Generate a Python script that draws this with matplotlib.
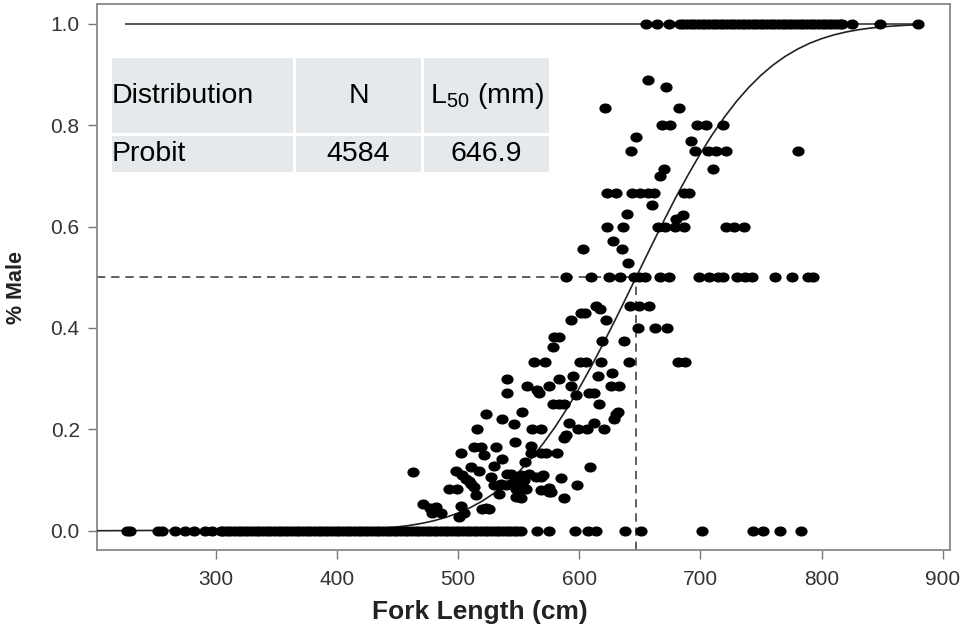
import matplotlib
matplotlib.use("Agg")
import matplotlib.pyplot as plt
from matplotlib.path import Path
from matplotlib.patches import Rectangle
from matplotlib.transforms import Affine2D

plt.rcParams["font.family"] = ["Liberation Sans", "DejaVu Sans"]
plt.rcParams["mathtext.fontset"] = "custom"
plt.rcParams["mathtext.rm"] = "Liberation Sans"

# ---- data -------------------------------------------------------------------
L50 = 646.9
N_FISH = 4584

# fish with 0 % male
zero_x = [226.4, 229.5, 252.3, 255.6, 266.7, 275, 281.8, 291.5, 297,
          304, 306, 309, 312, 315, 318, 321, 324, 327, 330, 333, 336, 339, 342,
          345, 348, 351, 354, 357, 360, 363, 366, 369, 372, 375, 378, 381, 384,
          387, 390, 393, 396, 399, 402, 405, 408, 411, 414, 417, 420, 423, 426,
          429, 432, 435, 438, 441, 444, 447, 450, 453, 456, 459, 462, 465, 468,
          471, 474, 477, 480, 483, 486, 489, 492, 495, 498, 501, 504, 507, 510,
          513, 516, 519, 522, 525, 528, 531, 534, 537, 540, 543, 546, 549, 552,
          565.5, 575.2, 596.3, 607.6, 613.8, 638, 651, 701.4, 743.2, 751.5,
          765.3, 783.2]

# fish with 100 % male
one_x = [655.1, 664.3, 673.8,
         683, 686, 689, 692, 695, 698, 701, 704, 707, 710, 713, 716, 719, 722,
         725, 728, 731, 734, 737, 740, 743, 746, 749, 752, 755, 758, 761, 764,
         767, 770, 773, 776, 779, 782, 785, 788, 791, 794, 797, 800, 803, 806,
         809, 812, 815, 817,
         825.4, 848, 880]

# intermediate proportions
mid_x = [656.5, 671.6, 621.2, 682.3,
         668, 674.7, 697, 705, 718.8,
         647, 692,
         642.8, 695.3, 706, 713, 721.5, 780.4,
         670.2, 710.2, 667,
         623.2, 630, 643.3, 650, 656.5, 661.3, 686.4, 691,
         660, 639.2, 685.4, 679.9,
         623.2, 636.1, 665.3, 670.9, 679.2, 686.4, 721.2, 728, 735.8,
         627.8, 603, 635.2, 640.2,
         589, 610, 624.9, 633.9, 645.5, 649.6, 654.4, 666.5, 674.4, 699.2,
         706.7, 714.3, 718.9, 730, 736.5, 742.5, 761.6, 775.2, 788.6, 792.7,
         613.8, 617.5, 642, 649.5, 657.9,
         601.4, 604.6, 593.1, 622.1,
         648.5, 662.8, 672.5,
         579.3, 583.7, 618.8, 637.2, 578,
         562.8, 572, 600.7, 605.5, 618.3, 641.3, 681.5, 687.5,
         540.7, 583.5, 594.5, 615.1, 627,
         556.9, 575.2, 593.1, 626.6, 633.1, 565.5,
         540.5, 567, 608.3, 612.4, 597.3,
         578.6, 583.5, 587.6, 615.9,
         522.9, 630.3, 552.8, 632, 536.1, 629, 546.3, 591.7, 612.4,
         516, 561.4, 568.3, 598.6, 606.2, 620.7,
         589, 587.8, 547.1, 560.1,
         513.2, 518.8, 531.2,
         502.2, 560.1, 568.3, 572.5, 582,
         521.5, 536.6, 555.4, 529.8, 510.5, 609,
         498.1, 517.4, 462.8,
         540.7, 543.5, 558.7, 503.5, 551.8, 569.7, 527, 564.2, 549, 568.3,
         584.9, 506.3, 554.5, 509.1,
         546.3, 510.5, 535.3, 543.5, 529.8, 553.1, 597.8, 533.9, 539.4,
         513.2, 575.2,
         492.6, 499.4, 547.7, 555.9, 552.6,
         568.3, 550.4, 575.2, 576.6,
         533.9, 514.6, 547.7, 551.8, 587.6,
         471.1, 502.2, 481.6, 476.6, 522.9, 520.1, 525.6,
         485.7, 504.9, 478.8, 500.8]
mid_y = [0.889, 0.875, 0.833, 0.833,
         0.8, 0.8, 0.8, 0.8, 0.8,
         0.777, 0.768,
         0.75, 0.75, 0.75, 0.75, 0.75, 0.75,
         0.714, 0.714, 0.70,
         0.667, 0.667, 0.667, 0.667, 0.667, 0.667, 0.667, 0.667,
         0.643, 0.625, 0.623, 0.615,
         0.6, 0.6, 0.6, 0.6, 0.6, 0.6, 0.6, 0.6, 0.6,
         0.571, 0.556, 0.556, 0.529,
         0.5, 0.5, 0.5, 0.5, 0.5, 0.5, 0.5, 0.5, 0.5, 0.5,
         0.5, 0.5, 0.5, 0.5, 0.5, 0.5, 0.5, 0.5, 0.5, 0.5,
         0.444, 0.438, 0.444, 0.444, 0.444,
         0.429, 0.429, 0.416, 0.416,
         0.4, 0.4, 0.4,
         0.383, 0.383, 0.375, 0.375, 0.362,
         0.333, 0.333, 0.333, 0.333, 0.333, 0.333, 0.333, 0.333,
         0.30, 0.30, 0.306, 0.306, 0.311,
         0.285, 0.285, 0.285, 0.285, 0.285, 0.277,
         0.272, 0.272, 0.272, 0.272, 0.267,
         0.25, 0.25, 0.25, 0.25,
         0.231, 0.231, 0.234, 0.234, 0.221, 0.221, 0.21, 0.213, 0.213,
         0.2, 0.2, 0.2, 0.2, 0.2, 0.2,
         0.188, 0.182, 0.175, 0.167,
         0.165, 0.165, 0.165,
         0.154, 0.154, 0.154, 0.154, 0.154,
         0.149, 0.141, 0.136, 0.127, 0.125, 0.125,
         0.118, 0.118, 0.115,
         0.112, 0.112, 0.112, 0.11, 0.11, 0.11, 0.106, 0.106, 0.106, 0.106,
         0.105, 0.103, 0.1, 0.098,
         0.094, 0.092, 0.092, 0.092, 0.09, 0.09, 0.09, 0.09, 0.09,
         0.087, 0.085,
         0.083, 0.083, 0.083, 0.083, 0.083,
         0.08, 0.077, 0.077, 0.077,
         0.072, 0.07, 0.067, 0.064, 0.064,
         0.0525, 0.049, 0.047, 0.044, 0.044, 0.042, 0.042,
         0.035, 0.035, 0.034, 0.028]

# fitted probit curve
curve_x = [202, 420, 440, 450, 460, 470, 480, 490, 500, 510, 520, 530, 540,
           550, 560, 570, 580, 590, 600, 610, 620, 630, 640, 650, 660, 670,
           680, 690, 700, 710, 720, 730, 740, 750, 760, 770, 780, 790, 800,
           810, 820, 830, 840, 850, 860, 870, 880]
curve_y = [0.0, 0.0026, 0.0053, 0.0075, 0.0105, 0.0145, 0.0197, 0.0264,
           0.0349, 0.0455, 0.0586, 0.0745, 0.0934, 0.1158, 0.1417, 0.1713,
           0.2044, 0.2413, 0.2813, 0.3243, 0.370, 0.4173, 0.466, 0.5152,
           0.564, 0.6122, 0.659, 0.7026, 0.744, 0.782, 0.8165, 0.8475, 0.8747,
           0.8985, 0.9187, 0.9357, 0.9498, 0.9614, 0.9706, 0.9780, 0.9837,
           0.9881, 0.9914, 0.9939, 0.9957, 0.9971, 0.9980]

table_head = ["Distribution", "N", r"L$_{\mathrm{50}}$ (mm)"]
table_row = ["Probit", f"{N_FISH}", f"{L50:.1f}"]

# ---- plot -------------------------------------------------------------------
fig = plt.figure(figsize=(9.6, 6.31), dpi=100)
ax = fig.add_axes([97 / 960, 81 / 631, 853 / 960, 546 / 631])
xlim = (202, 906)
ylim = (-0.038, 1.039)
ax.set_xlim(*xlim)
ax.set_ylim(*ylim)

dot = Path.unit_circle().transformed(Affine2D().scale(1.25, 1.0))
ax.plot([226, 880], [1, 1], color="#555555", lw=1.4, zorder=2)
ax.plot([xlim[0], L50], [0.5, 0.5], color="#444444", lw=1.2,
        ls=(0, (5, 3.5)), zorder=2)
ax.plot([L50, L50], [ylim[0], 0.5], color="#444444", lw=1.2,
        ls=(0, (5, 3.5)), zorder=2)
ax.plot(curve_x, curve_y, color="#222222", lw=1.2, zorder=3)

kw = dict(ls="none", marker=dot, ms=7.8, color="black", zorder=4)
ax.plot(zero_x, [0] * len(zero_x), **kw)
ax.plot(one_x, [1] * len(one_x), **kw)
ax.plot(mid_x, mid_y, **kw)

ax.set_xticks([300, 400, 500, 600, 700, 800, 900])
ax.set_yticks([0.0, 0.2, 0.4, 0.6, 0.8, 1.0])
ax.set_yticklabels(["0.0", "0.2", "0.4", "0.6", "0.8", "1.0"])
ax.tick_params(length=6.5, width=1.0, color="#777777", labelsize=15,
               labelcolor="#333333", pad=6)
ax.tick_params(axis="x", pad=8)
for s in ax.spines.values():
    s.set_color("#888888")
    s.set_linewidth(1.3)

# summary table in the top-left corner
cell_x = [(0.0176, 0.2298), (0.2333, 0.3798), (0.3834, 0.5299)]
rows_y = [(0.7637, 0.9011), (0.6923, 0.7582)]
for (y0, y1), texts in zip(rows_y, [table_head, table_row]):
    for j, ((x0, x1), t) in enumerate(zip(cell_x, texts)):
        ax.add_patch(Rectangle((x0, y0), x1 - x0, y1 - y0, transform=ax.transAxes,
                               facecolor="#e5e9eb", edgecolor="none", zorder=1))
        if j == 0:
            ax.text(x0, (y0 + y1) / 2, t, transform=ax.transAxes, ha="left",
                    va="center", fontsize=20.5, color="black", zorder=5)
        else:
            ax.text((x0 + x1) / 2, (y0 + y1) / 2, t, transform=ax.transAxes,
                    ha="center", va="center", fontsize=20.5, color="black", zorder=5)

fig.text(480 / 960, 1 - 612 / 631, "Fork Length (cm)", ha="center", va="center",
         fontsize=19, fontweight="bold", color="#222222")
fig.text(17 / 960, 1 - 288 / 631, "% Male", ha="center", va="center",
         rotation=90, fontsize=15.5, fontweight="bold", color="#222222")

fig.savefig("out.png", dpi=100)
